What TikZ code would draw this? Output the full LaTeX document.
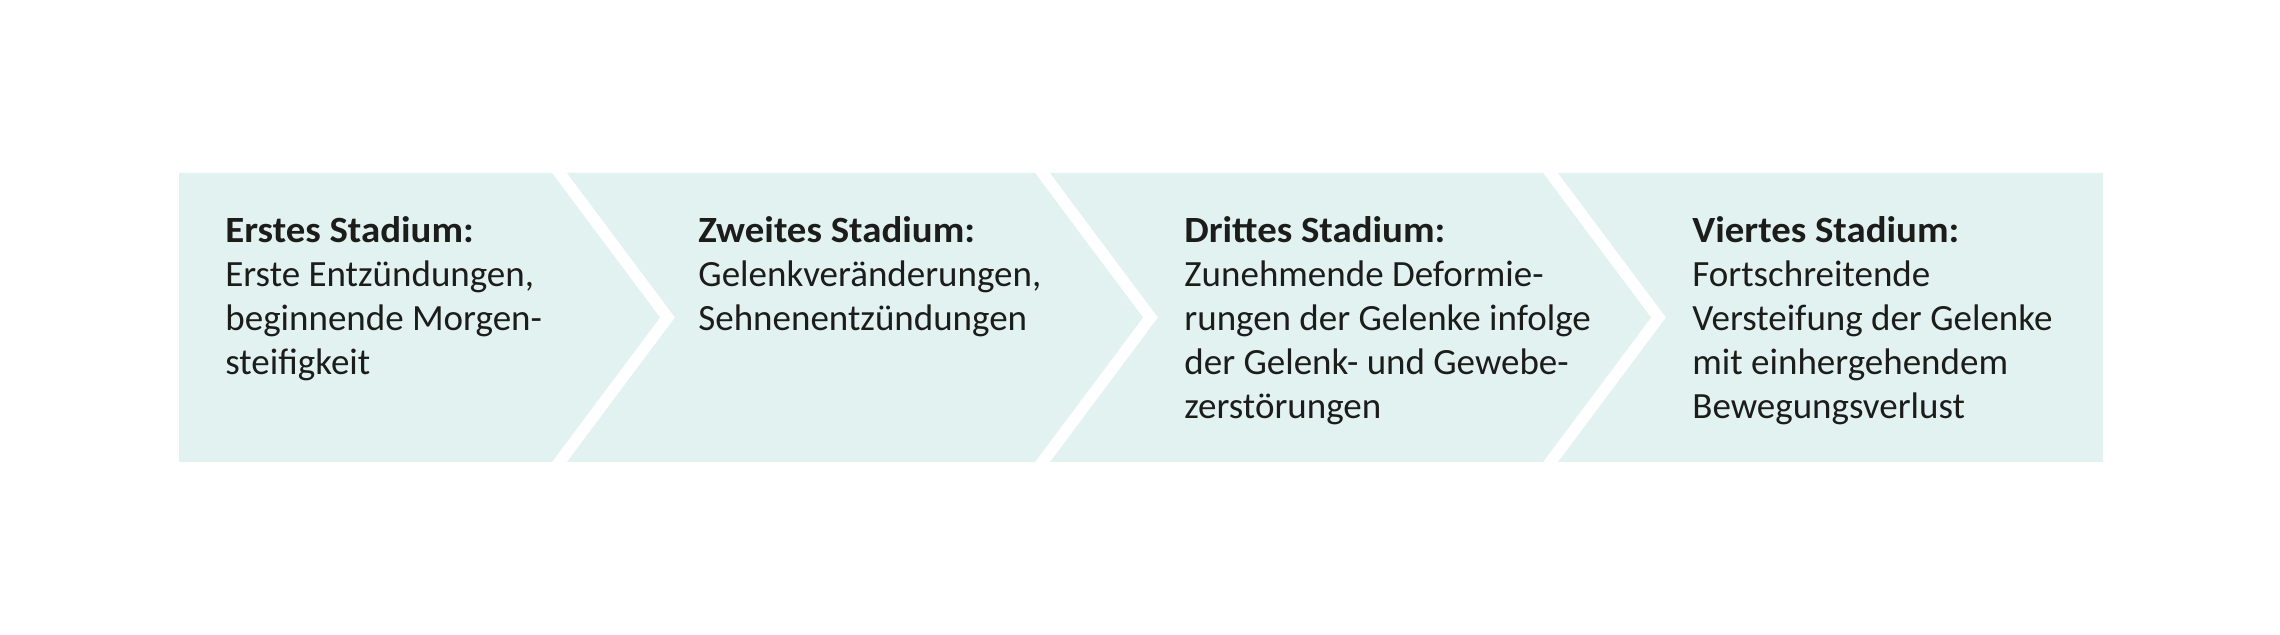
\documentclass[tikz,border=0pt]{standalone}
\usepackage{fontspec}
\setmainfont{Carlito}[BoldFeatures={FakeStretch=1.05}]
\definecolor{boxfill}{HTML}{E1F2F1}
\definecolor{txt}{HTML}{1C1C1B}
\begin{document}
\begin{tikzpicture}[x=0.5pt,y=-0.5pt,
  stagebox/.style={fill=boxfill,draw=none},
  stagetext/.style={anchor=north west,inner sep=0pt,align=left,text=txt,
    font=\fontsize{18.5}{22}\selectfont}]
\useasboundingbox (0,0) rectangle (2280,635);
\fill[white] (0,0) rectangle (2280,635);
% chevron shapes
\path[stagebox] (179,173) -- (552,173) -- (660,317.5) -- (552,462) -- (179,462) -- cycle;
\path[stagebox] (567,173) -- (1035,173) -- (1143,317.5) -- (1035,462) -- (567,462) -- (675,317.5) -- cycle;
\path[stagebox] (1050,173) -- (1543,173) -- (1651,317.5) -- (1543,462) -- (1050,462) -- (1158,317.5) -- cycle;
\path[stagebox] (1558,173) -- (2103,173) -- (2103,462) -- (1558,462) -- (1666,317.5) -- cycle;
% texts
\node[stagetext] (s1) at (225,202) {\rule{0pt}{20pt}\textbf{Erstes Stadium:}\\Erste Entzündungen,\\beginnende Morgen-\\steifigkeit};
\node[stagetext] (s2) at (698,202) {\rule{0pt}{20pt}\textbf{Zweites Stadium:}\\Gelenkveränderungen,\\Sehnenentzündungen};
\node[stagetext] (s3) at (1184,202) {\rule{0pt}{20pt}\textbf{Drittes Stadium:}\\Zunehmende Deformie-\\rungen der Gelenke infolge\\der Gelenk- und Gewebe-\\zerstörungen};
\node[stagetext] (s4) at (1692,202) {\rule{0pt}{20pt}\textbf{Viertes Stadium:}\\Fortschreitende\\Versteifung der Gelenke\\mit einhergehendem\\Bewegungsverlust};
\end{tikzpicture}
\end{document}
